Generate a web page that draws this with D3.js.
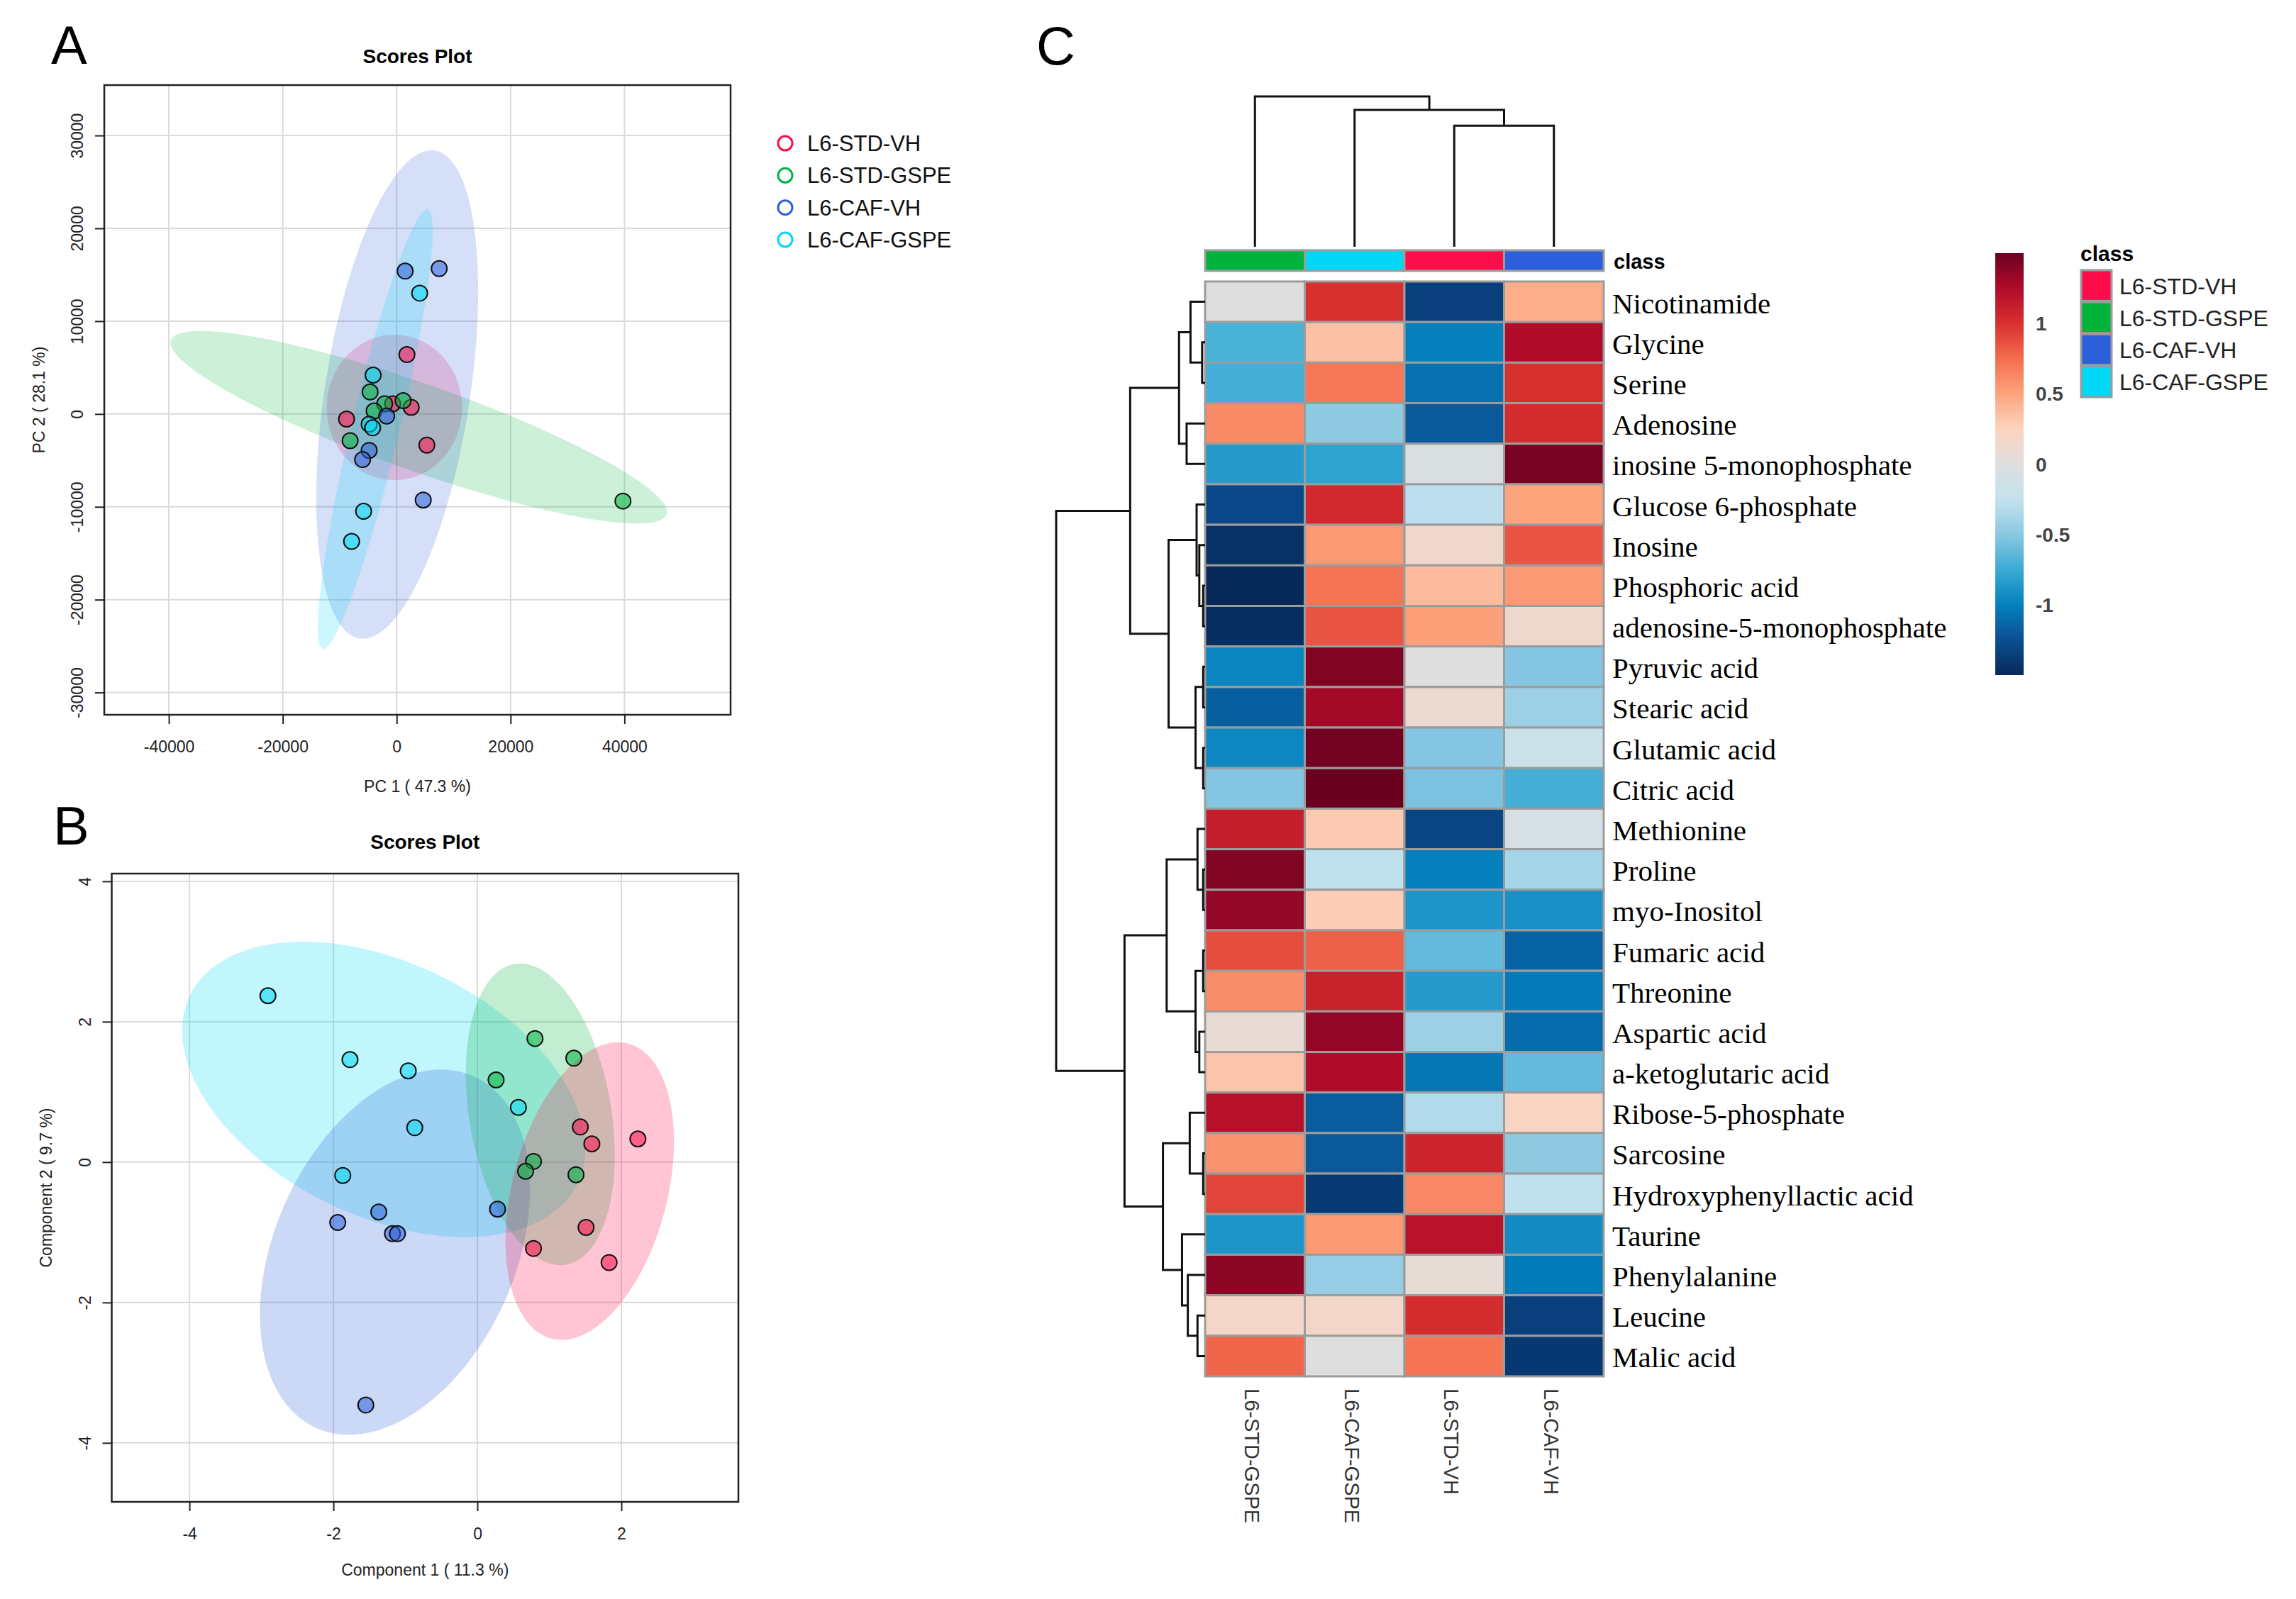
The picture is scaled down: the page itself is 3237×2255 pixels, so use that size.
<!DOCTYPE html>
<html>
<head>
<meta charset="utf-8">
<script src="https://cdn.jsdelivr.net/npm/d3@7"></script>
<style>
  body { margin: 0; background: white; }
</style>
</head>
<body>
<script>
// ---- data ----
const groups = ["L6-STD-VH", "L6-STD-GSPE", "L6-CAF-VH", "L6-CAF-GSPE"];

// A: PCA scores
const pcaGroup = [0,0,0,0,0, 1,1,1,1,1,1, 2,2,2,2,2,2, 3,3,3,3,3,3];
const pcaPC1 = [1800,-8800,-700,2550,5300, -4660,-2110,1140,-3960,-8170,39730,
                1490,7470,-1760,-4830,-5980,4660, 4040,-4130,-4830,-4220,-5800,-7910];
const pcaPC2 = [6400,-550,1100,720,-3350, 2370,1100,1430,330,-2870,-9380,
                15390,15660,-220,-3920,-4910,-9270, 13020,4190,-1100,-1490,-10480,-13730];
// confidence ellipses: centre + two semi-axis vectors, data units
const pcaEllipses = [
  {g: 0, cx: -400, cy: 700, ax: 11870, ay: 0, bx: 0, by: 7830},
  {g: 1, cx: 3870, cy: -1430, ax: 43510, ay: -9376, bx: -2430, by: -4434},
  {g: 2, cx: 90, cy: 2096, ax: 6636, ay: 26279, bx: 12570, by: -1257},
  {g: 3, cx: -3780, cy: -1655, ax: 9230, ay: 23660, bx: 4096, by: -629}
];
const pcaXTicks = [-40000, -20000, 0, 20000, 40000];
const pcaYTicks = [-30000, -20000, -10000, 0, 10000, 20000, 30000];

// B: PLS-DA scores
const plsGroup = [3,3,3,3,3,3, 1,1,1,1,1,1, 0,0,0,0,0,0, 2,2,2,2,2,2];
const plsC1 = [-2.91,-1.77,-0.96,-0.87,-1.87,0.57, 0.80,1.34,0.26,0.78,0.67,1.37,
               1.43,1.59,2.23,1.51,0.78,1.83, 0.28,-1.37,-1.94,-1.18,-1.11,-1.55];
const plsC2 = [2.37,1.46,1.30,0.49,-0.19,0.78, 1.76,1.48,1.17,0.01,-0.13,-0.18,
               0.50,0.26,0.33,-0.93,-1.23,-1.43, -0.67,-0.71,-0.86,-1.02,-1.02,-3.46];
const plsEllipses = [
  {g: 3, cx: -1.30, cy: 1.036, ax: 2.704, ay: -1.317, bx: -0.733, by: -1.642},
  {g: 2, cx: -1.145, cy: -1.283, ax: 1.114, ay: 2.496, bx: 1.509, by: -0.735},
  {g: 1, cx: 0.874, cy: 0.681, ax: -0.3615, ay: 2.141, bx: 0.970, by: 0.179},
  {g: 0, cx: 1.561, cy: -0.413, ax: 0.539, ay: 2.100, bx: 1.039, by: -0.291}
];
const plsXTicks = [-4, -2, 0, 2];
const plsYTicks = [-4, -2, 0, 2, 4];

// C: heatmap (z-scores), columns in dendrogram order
const heatColumns = ["L6-STD-GSPE", "L6-CAF-GSPE", "L6-STD-VH", "L6-CAF-VH"];
const metabolites = ["Nicotinamide","Glycine","Serine","Adenosine","inosine 5-monophosphate",
  "Glucose 6-phosphate","Inosine","Phosphoric acid","adenosine-5-monophosphate","Pyruvic acid",
  "Stearic acid","Glutamic acid","Citric acid","Methionine","Proline","myo-Inositol",
  "Fumaric acid","Threonine","Aspartic acid","a-ketoglutaric acid","Ribose-5-phosphate",
  "Sarcosine","Hydroxyphenyllactic acid","Taurine","Phenylalanine","Leucine","Malic acid"];
const heatValues = [
  [0.00, 1.00, -1.35, 0.45],
  [-0.70, 0.35, -1.00, 1.25],
  [-0.72, 0.70, -1.08, 1.00],
  [0.62, -0.48, -1.20, 1.02],
  [-0.85, -0.80, -0.05, 1.45],
  [-1.30, 1.05, -0.28, 0.50],
  [-1.45, 0.55, 0.15, 0.85],
  [-1.50, 0.72, 0.38, 0.55],
  [-1.47, 0.85, 0.52, 0.13],
  [-0.97, 1.42, 0.00, -0.52],
  [-1.17, 1.30, 0.12, -0.42],
  [-0.96, 1.47, -0.52, -0.18],
  [-0.52, 1.50, -0.55, -0.72],
  [1.12, 0.30, -1.32, -0.08],
  [1.42, -0.27, -1.00, -0.38],
  [1.35, 0.28, -0.88, -0.90],
  [0.88, 0.80, -0.62, -1.15],
  [0.60, 1.10, -0.85, -1.03],
  [0.08, 1.35, -0.42, -1.10],
  [0.33, 1.25, -1.05, -0.62],
  [1.22, -1.18, -0.33, 0.22],
  [0.58, -1.20, 1.08, -0.48],
  [0.92, -1.38, 0.63, -0.27],
  [-0.88, 0.55, 1.20, -0.93],
  [1.38, -0.45, 0.07, -1.02],
  [0.18, 0.17, 1.02, -1.35],
  [0.78, 0.00, 0.72, -1.40]
];
// dendrograms: leaves are row / column indices, h = merge height
const rowTree = {h: 10, k: [
  {h: 5.03, k: [
    {h: 1.75, k: [{h: 0.98, k: [0, {h: 0.2, k: [1, 2]}]}, {h: 1.24, k: [3, 4]}]},
    {h: 2.45, k: [
      {h: 0.57, k: [5, {h: 0.39, k: [6, {h: 0.13, k: [7, 8]}]}]},
      {h: 0.64, k: [{h: 0.13, k: [9, 10]}, {h: 0.13, k: [11, 12]}]}]}]},
  {h: 5.41, k: [
    {h: 2.58, k: [
      {h: 0.51, k: [13, {h: 0.13, k: [14, 15]}]},
      {h: 0.64, k: [{h: 0.13, k: [16, 17]}, {h: 0.39, k: [18, 19]}]}]},
    {h: 2.83, k: [
      {h: 1.03, k: [20, {h: 0.13, k: [21, 22]}]},
      {h: 1.55, k: [23, {h: 1.16, k: [24, {h: 0.51, k: [25, 26]}]}]}]}]}
]};
const colTree = {h: 10, k: [0, {h: 9.1, k: [1, {h: 8.05, k: [2, 3]}]}]};
const legendTicks = [-1, -0.5, 0, 0.5, 1];

// ---- style ----
const groupColors = {"L6-STD-VH": "#ff0d4a", "L6-STD-GSPE": "#00b33c",
                     "L6-CAF-VH": "#2b5fdb", "L6-CAF-GSPE": "#00d8f5"};
const heatStops = [-1.5,-1.25,-1,-0.75,-0.5,-0.25,0,0.25,0.5,0.75,1,1.25,1.5];
const heatColors = ["#07295a","#0a4f93","#0580bd","#3aabd4","#8ac8e2","#c4e2ee","#dedede",
                    "#fcd3bf","#fca47c","#f46d4f","#d8302f","#b10c2a","#6a0020"];
const sans = "'Liberation Sans', Arial, sans-serif";
const serif = "'Liberation Serif', 'Times New Roman', serif";

const svg = d3.select("body").append("svg")
    .attr("width", 3237)
    .attr("height", 2255)
    .style("background", "white");

const gcol = i => groupColors[groups[i]];

function scoresPanel(o) {
  const g = svg.append("g");
  const x = d3.scaleLinear().domain(o.xDomain).range([o.left, o.right]);
  const y = d3.scaleLinear().domain(o.yDomain).range([o.bottom, o.top]);

  g.selectAll(".gx").data(o.xTicks).join("line").attr("class", "gx")
    .attr("x1", d => x(d)).attr("x2", d => x(d)).attr("y1", o.top).attr("y2", o.bottom)
    .attr("stroke", "#dadada").attr("stroke-width", 2);
  g.selectAll(".gy").data(o.yTicks).join("line").attr("class", "gy")
    .attr("y1", d => y(d)).attr("y2", d => y(d)).attr("x1", o.left).attr("x2", o.right)
    .attr("stroke", "#dadada").attr("stroke-width", 2);

  const line = d3.line().x(d => x(d[0])).y(d => y(d[1])).curve(d3.curveLinearClosed);
  g.selectAll(".ell").data(o.ellipses).join("path").attr("class", "ell")
    .attr("d", e => line(d3.range(144).map(i => {
      const t = i / 144 * 2 * Math.PI;
      return [e.cx + e.ax * Math.cos(t) + e.bx * Math.sin(t),
              e.cy + e.ay * Math.cos(t) + e.by * Math.sin(t)];
    })))
    .attr("fill", e => gcol(e.g))
    .attr("fill-opacity", o.ellAlpha);

  g.selectAll(".pt").data(d3.range(o.px.length)).join("circle").attr("class", "pt")
    .attr("cx", i => x(o.px[i])).attr("cy", i => y(o.py[i])).attr("r", 11)
    .attr("fill", i => gcol(o.pg[i])).attr("fill-opacity", 0.55)
    .attr("stroke", "#111").attr("stroke-width", 2);

  g.append("rect")
    .attr("x", o.left).attr("y", o.top)
    .attr("width", o.right - o.left).attr("height", o.bottom - o.top)
    .attr("fill", "none").attr("stroke", "#222").attr("stroke-width", 2.5);

  const ax = g.append("g").attr("transform", `translate(0,${o.bottom})`)
    .call(d3.axisBottom(x).tickValues(o.xTicks).tickSize(13).tickFormat(d => String(d)));
  ax.select(".domain").remove();
  ax.selectAll("line").attr("stroke", "#222").attr("stroke-width", 2);
  ax.selectAll("text").attr("y", 53).attr("dy", 0)
    .style("font-family", sans).style("font-size", "23px").style("fill", "#222");

  const ay = g.append("g").attr("transform", `translate(${o.left},0)`)
    .call(d3.axisLeft(y).tickValues(o.yTicks).tickSize(13).tickFormat(d => String(d)));
  ay.select(".domain").remove();
  ay.selectAll("line").attr("stroke", "#222").attr("stroke-width", 2);
  ay.selectAll("text").attr("x", 0).attr("y", -30).attr("dy", 0)
    .attr("transform", "rotate(-90)").attr("text-anchor", "middle")
    .style("font-family", sans).style("font-size", "23px").style("fill", "#222");

  const cx = (o.left + o.right) / 2;
  g.append("text").attr("x", cx).attr("y", o.titleY).attr("text-anchor", "middle")
    .style("font-family", sans).style("font-size", "28px").style("font-weight", "bold")
    .text("Scores Plot");
  g.append("text").attr("x", cx).attr("y", o.xTitleY).attr("text-anchor", "middle")
    .style("font-family", sans).style("font-size", "23px").style("fill", "#222")
    .text(o.xTitle);
  g.append("text")
    .attr("transform", `translate(${o.yTitleX},${(o.top + o.bottom) / 2}) rotate(-90)`)
    .attr("text-anchor", "middle")
    .style("font-family", sans).style("font-size", "23px").style("fill", "#222")
    .text(o.yTitle);
  svg.append("text").attr("x", o.letterX).attr("y", o.letterY)
    .style("font-family", sans).style("font-size", "76px").text(o.letter);
}

scoresPanel({
  left: 147, right: 1030, top: 120, bottom: 1008,
  xDomain: [-51340, 58630], yDomain: [-32400, 35430],
  xTicks: pcaXTicks, yTicks: pcaYTicks,
  px: pcaPC1, py: pcaPC2, pg: pcaGroup, ellipses: pcaEllipses, ellAlpha: 0.2,
  titleY: 89, xTitleY: 1117, yTitleX: 63,
  xTitle: "PC 1 ( 47.3 %)", yTitle: "PC 2 ( 28.1 %)",
  letter: "A", letterX: 72, letterY: 90
});

scoresPanel({
  left: 157.5, right: 1041, top: 1232, bottom: 2118,
  xDomain: [-5.08, 3.626], yDomain: [-4.84, 4.11],
  xTicks: plsXTicks, yTicks: plsYTicks,
  px: plsC1, py: plsC2, pg: plsGroup, ellipses: plsEllipses, ellAlpha: 0.24,
  titleY: 1197, xTitleY: 2222, yTitleX: 73,
  xTitle: "Component 1 ( 11.3 %)", yTitle: "Component 2 ( 9.7 %)",
  letter: "B", letterX: 75, letterY: 1191
});

// legend for A
const legA = svg.append("g");
const legAy = d3.scalePoint().domain(groups).range([202, 338]);
legA.selectAll("circle").data(groups).join("circle")
  .attr("cx", 1107).attr("cy", d => legAy(d)).attr("r", 10)
  .attr("fill", "none").attr("stroke", d => groupColors[d]).attr("stroke-width", 3);
legA.selectAll("text").data(groups).join("text")
  .attr("x", 1138).attr("y", d => legAy(d) + 11)
  .style("font-family", sans).style("font-size", "31px").style("fill", "#111")
  .text(d => d);

// ---- C: heatmap ----
svg.append("text").attr("x", 1461).attr("y", 91)
  .style("font-family", sans).style("font-size", "76px").text("C");

const xCol = d3.scaleBand().domain(d3.range(heatColumns.length)).range([1699, 2261]);
const yRow = d3.scaleBand().domain(d3.range(metabolites.length)).range([397, 1941]);
const heatColor = d3.scaleLinear().domain(heatStops).range(heatColors).clamp(true);

const heat = svg.append("g");
heatValues.forEach((row, r) => {
  heat.selectAll(".r" + r).data(row).join("rect").attr("class", "r" + r)
    .attr("x", (d, c) => xCol(c)).attr("y", yRow(r))
    .attr("width", xCol.bandwidth()).attr("height", yRow.bandwidth())
    .attr("fill", d => heatColor(d))
    .attr("stroke", "#9c9c9c").attr("stroke-width", 3);
});

// class annotation bar
heat.selectAll(".cls").data(heatColumns).join("rect").attr("class", "cls")
  .attr("x", (d, c) => xCol(c)).attr("y", 353)
  .attr("width", xCol.bandwidth()).attr("height", 29)
  .attr("fill", d => groupColors[d])
  .attr("stroke", "#9c9c9c").attr("stroke-width", 3);
heat.append("text").attr("x", 2275).attr("y", 379)
  .style("font-family", sans).style("font-size", "29px").style("font-weight", "bold")
  .text("class");

// row labels
heat.selectAll(".rl").data(metabolites).join("text").attr("class", "rl")
  .attr("x", 2273).attr("y", (d, i) => yRow(i) + yRow.bandwidth() / 2 + 16)
  .style("font-family", serif).style("font-size", "41px").style("fill", "#000")
  .text(d => d);

// column labels
heat.selectAll(".cl").data(heatColumns).join("text").attr("class", "cl")
  .attr("transform", (d, c) => `translate(${xCol(c) + xCol.bandwidth() / 2 - 14},1958) rotate(90)`)
  .style("font-family", sans).style("font-size", "29px").style("fill", "#333")
  .text(d => d);

// dendrograms
function treeSegs(node, leafPos, segs) {
  if (typeof node === "number") return {p: leafPos(node), h: 0};
  const kids = node.k.map(k => treeSegs(k, leafPos, segs));
  segs.push({h: node.h, p1: kids[0].p, h1: kids[0].h, p2: kids[1].p, h2: kids[1].h});
  return {p: (kids[0].p + kids[1].p) / 2, h: node.h};
}

const rowH = d3.scaleLinear().domain([0, 10]).range([1699, 1489]);
const rowSegs = [];
treeSegs(rowTree, i => yRow(i) + yRow.bandwidth() / 2, rowSegs);
svg.append("g").selectAll("path").data(rowSegs).join("path")
  .attr("d", s => `M${rowH(s.h1)},${s.p1}H${rowH(s.h)}V${s.p2}H${rowH(s.h2)}`)
  .attr("fill", "none").attr("stroke", "#111").attr("stroke-width", 3);

const colH = d3.scaleLinear().domain([0, 10]).range([348, 136]);
const colSegs = [];
treeSegs(colTree, i => xCol(i) + xCol.bandwidth() / 2, colSegs);
svg.append("g").selectAll("path").data(colSegs).join("path")
  .attr("d", s => `M${s.p1},${colH(s.h1)}V${colH(s.h)}H${s.p2}V${colH(s.h2)}`)
  .attr("fill", "none").attr("stroke", "#111").attr("stroke-width", 3);

// colour key
const keyY = d3.scaleLinear().domain([-1.5, 1.5]).range([952, 357]);
const grad = svg.append("defs").append("linearGradient")
  .attr("id", "heatgrad").attr("x1", 0).attr("x2", 0).attr("y1", 1).attr("y2", 0);
grad.selectAll("stop").data(heatStops).join("stop")
  .attr("offset", d => (d + 1.5) / 3)
  .attr("stop-color", d => heatColor(d));
svg.append("rect").attr("x", 2813).attr("y", keyY(1.5))
  .attr("width", 40).attr("height", keyY(-1.5) - keyY(1.5))
  .attr("fill", "url(#heatgrad)");
svg.selectAll(".kt").data(legendTicks).join("text").attr("class", "kt")
  .attr("x", 2870).attr("y", d => keyY(d) + 10)
  .style("font-family", sans).style("font-size", "28px").style("font-weight", "bold")
  .style("fill", "#444")
  .text(d => String(d));

// class legend
const clsLeg = svg.append("g");
clsLeg.append("text").attr("x", 2933).attr("y", 368)
  .style("font-family", sans).style("font-size", "30px").style("font-weight", "bold")
  .text("class");
const clsY = d3.scaleBand().domain(groups).range([381, 560]).paddingInner(0.04);
clsLeg.selectAll("rect").data(groups).join("rect")
  .attr("x", 2934).attr("y", d => clsY(d))
  .attr("width", 43).attr("height", clsY.bandwidth())
  .attr("fill", d => groupColors[d]).attr("stroke", "#9c9c9c").attr("stroke-width", 3);
clsLeg.selectAll("text.cll").data(groups).join("text").attr("class", "cll")
  .attr("x", 2988).attr("y", d => clsY(d) + clsY.bandwidth() / 2 + 12)
  .style("font-family", sans).style("font-size", "32px").style("fill", "#222")
  .text(d => d);
</script>
</body>
</html>
